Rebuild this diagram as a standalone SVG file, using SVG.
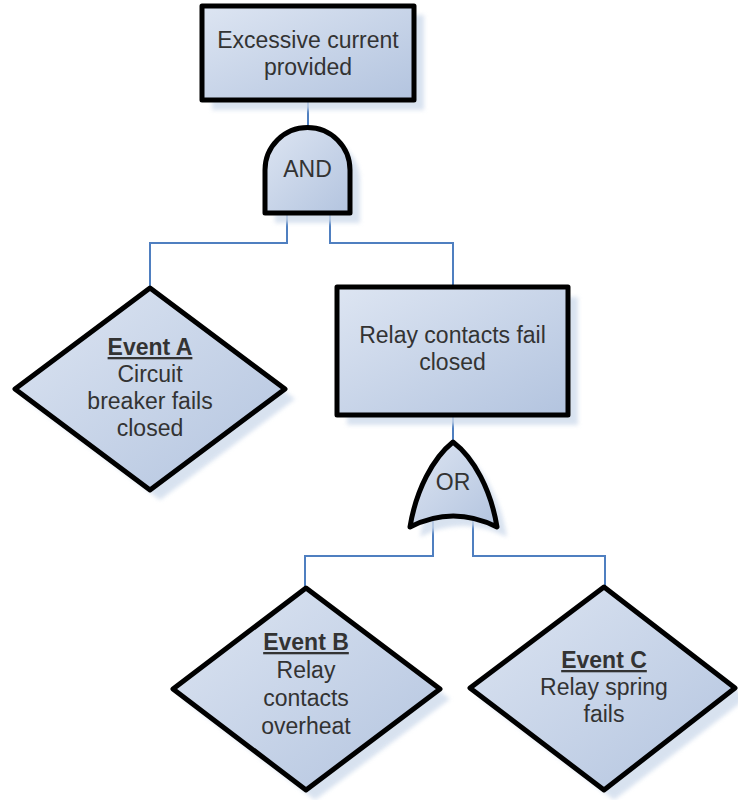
<svg xmlns="http://www.w3.org/2000/svg" width="738" height="800" viewBox="0 0 738 800">
<style>
.shape{fill:url(#g);stroke:#000;stroke-width:5;stroke-linejoin:round}
.shadow{fill:#cfdbec;opacity:0.8;filter:url(#blur)}
.conn{fill:none;stroke:#4f7fc0;stroke-width:2}
text{font-family:"Liberation Sans",Arial,sans-serif;font-size:23px;fill:#333;text-anchor:middle}
.ev{font-weight:bold;text-decoration:underline}
</style>
<defs>
<linearGradient id="g" x1="0" y1="0" x2="1" y2="1">
<stop offset="0" stop-color="#dde5f2"/>
<stop offset="1" stop-color="#b3c4df"/>
</linearGradient>
<filter id="blur" x="-10%" y="-10%" width="120%" height="120%"><feGaussianBlur stdDeviation="2"/></filter>
</defs>
<rect width="738" height="800" fill="#fff"/>
<g id="connectors">
<path class="conn" d="M308,100 V127"/>
<path class="conn" d="M287,213 V243 H150 V288"/>
<path class="conn" d="M330,213 V243 H453 V287"/>
<path class="conn" d="M453,415 V442"/>
<path class="conn" d="M433,520 V556 H305 V588"/>
<path class="conn" d="M473,520 V556 H605 V587"/>
</g>
<g id="top-event">
<rect class="shadow" x="212" y="15" width="212" height="95"/>
<rect class="shape" x="202" y="6" width="212" height="94"/>
<text x="308" y="48">Excessive current</text>
<text x="308" y="75">provided</text>
</g>
<g id="and-gate">
<path class="shadow" d="M275,223 V180 A42.5,42.5 0 0 1 360,180 V223 Z"/>
<path class="shape" d="M265,213 V170 A42.5,42.5 0 0 1 350,170 V213 Z"/>
<text x="307.5" y="177">AND</text>
</g>
<g id="event-a">
<path class="shadow" d="M160,298 L295,399 L160,500 L25,399 Z"/>
<path class="shape" d="M150,288 L285,389 L150,490 L15,389 Z"/>
<text class="ev" x="150" y="355">Event A</text>
<text x="150" y="382">Circuit</text>
<text x="150" y="409">breaker fails</text>
<text x="150" y="436">closed</text>
</g>
<g id="relay-contacts">
<rect class="shadow" x="347" y="297" width="231" height="128"/>
<rect class="shape" x="337" y="287" width="231" height="128"/>
<text x="452.5" y="343">Relay contacts fail</text>
<text x="452.5" y="370">closed</text>
</g>
<g id="or-gate">
<path class="shadow" d="M463,452 C443,468 426,500 420,537 Q463,515 507,537 C501,500 484,468 463,452 Z"/>
<path class="shape" d="M453,442 C433,458 416,490 410,527 Q453,505 497,527 C491,490 474,458 453,442 Z"/>
<text x="453" y="490">OR</text>
</g>
<g id="event-b">
<path class="shadow" d="M315,598 L450,699 L315,800 L183,699 Z"/>
<path class="shape" d="M306,588 L440,689 L306,790 L173,689 Z"/>
<text class="ev" x="306" y="650">Event B</text>
<text x="306" y="678">Relay</text>
<text x="306" y="706">contacts</text>
<text x="306" y="734">overheat</text>
</g>
<g id="event-c">
<path class="shadow" d="M614,597 L747,698 L614,800 L480,698 Z"/>
<path class="shape" d="M604,587 L735,688 L604,790 L470,688 Z"/>
<text class="ev" x="604" y="668">Event C</text>
<text x="604" y="695">Relay spring</text>
<text x="604" y="722">fails</text>
</g>
</svg>
